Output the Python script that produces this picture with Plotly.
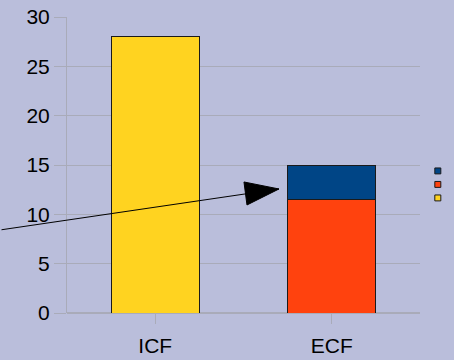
import plotly.graph_objects as go

categories = ["ICF", "ECF"]
icf_values = [28, None]
ecf_lower = [None, 11.5]
ecf_upper = [None, 3.5]

bg = "#babedb"
grid = "#a9abb9"
yellow = "#ffd320"
red = "#ff420e"
blue = "#004586"

fig = go.Figure()
line = dict(color="#1a1a1a", width=1)
fig.add_bar(x=categories, y=icf_values, marker=dict(color=yellow, line=line), showlegend=False)
fig.add_bar(x=categories, y=ecf_lower, marker=dict(color=red, line=line), showlegend=False)
fig.add_bar(x=categories, y=ecf_upper, marker=dict(color=blue, line=line), showlegend=False)

# small legend keys without labels, stacked top to bottom
for i, c in enumerate([blue, red, yellow]):
    y0 = 0.47 - i * 0.0456
    fig.add_shape(type="rect", xref="paper", yref="paper",
                  x0=1.042, x1=1.059, y0=y0, y1=y0 + 0.02,
                  fillcolor=c, line=dict(color="#1a1a1a", width=1))

# pointer line with a large filled head
tip_x, tip_y = 0.701, 12.57
fig.add_annotation(x=tip_x, y=tip_y, xref="x", yref="y", ax=-279, ay=41,
                   text="", showarrow=True, arrowhead=0, arrowwidth=1,
                   arrowcolor="#000000")
fig.add_shape(type="path", xref="x", yref="y", xsizemode="pixel", ysizemode="pixel",
              xanchor=tip_x, yanchor=tip_y, path="M0,0 L-35,7 L-32,-16 Z",
              fillcolor="#000000", line=dict(color="#000000", width=1))

fig.update_layout(
    barmode="stack", bargap=0.5,
    width=454, height=360,
    margin=dict(l=67, r=34, t=17, b=47, autoexpand=False),
    paper_bgcolor=bg, plot_bgcolor=bg,
    font=dict(family="Liberation Sans, Arial, sans-serif", size=21, color="#000000"),
)
fig.update_xaxes(range=[-0.5, 1.5], showgrid=False, ticks="outside", ticklen=10, tickcolor=grid,
                 showline=False, zeroline=False, automargin=False, ticklabelstandoff=4)
fig.update_yaxes(range=[0, 30], dtick=5, showgrid=True, gridcolor=grid, gridwidth=1,
                 ticks="outside", ticklen=12, tickcolor=grid, showline=True,
                 linecolor=grid, linewidth=1, zeroline=True, zerolinecolor=grid,
                 automargin=False)

fig.write_html("out.html")
